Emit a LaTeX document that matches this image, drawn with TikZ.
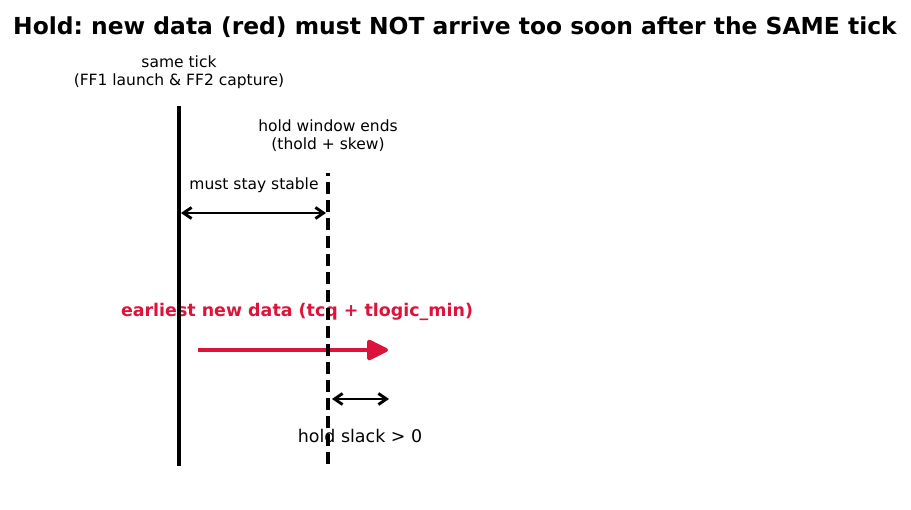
\documentclass[tikz,border=0pt]{standalone}
\usepackage{fontspec}
\setmainfont{DejaVu Sans}
\usetikzlibrary{arrows.meta}
\definecolor{crimson}{RGB}{220,20,60}
\frenchspacing

\begin{document}
\begin{tikzpicture}[
    x=0.01in,y=-0.01in,
    font=\fontsize{11.2}{12.9}\selectfont,
    label/.style={align=center,inner sep=0pt},
    title/.style={label,font=\bfseries\fontsize{16.9}{20}\selectfont},
    tick/.style={draw=black,line width=2.9pt},
    window/.style={draw=black,line width=2.2pt,dash pattern=on 9pt off 4pt},
    span/.style={draw=black,line width=2.1pt,
        {Straight Barb[length=5.8pt,width=8pt]}-{Straight Barb[length=5.8pt,width=8pt]}},
    data/.style={draw=crimson,line width=2.9pt,-{Triangle[length=17pt,width=16pt,round]}}
]
\useasboundingbox (0,0) rectangle (911,510);
\node[title] (heading) at (455,27)
    {Hold: new data (red) must NOT arrive too soon after the SAME tick};
\node[label] (ticktext) at (179,72) {same tick\\(FF1 launch \& FF2 capture)};
\node[label] (holdtext) at (328,136) {hold window ends\\(thold + skew)};
\node[label] (stabletext) at (254,185) {must stay stable};
\node[label,text=crimson,font=\bfseries\fontsize{12.6}{15}\selectfont] (datatext)
    at (297,312) {earliest new data (tcq + tlogic\_min)};
\node[label,font=\fontsize{12.6}{15}\selectfont] (slacktext) at (360,436) {hold slack > 0};
% clock edge and end of hold window
\coordinate (tick top) at (179,106);
\coordinate (tick bottom) at (179,466);
\coordinate (hold top) at (328,173);
\coordinate (hold bottom) at (328,464);
% arrows
\coordinate (stable left) at (181,213);
\coordinate (stable right) at (326,213);
\coordinate (data start) at (198,350);
\coordinate (data end) at (388,350);
\coordinate (slack left) at (332,399);
\coordinate (slack right) at (389,399);
\draw[data] (data start) -- (data end);
\draw[tick] (tick top) -- (tick bottom);
\draw[window] (hold bottom) -- (hold top);
\draw[span] (stable left) -- (stable right);
\draw[span] (slack left) -- (slack right);
\end{tikzpicture}
\end{document}
